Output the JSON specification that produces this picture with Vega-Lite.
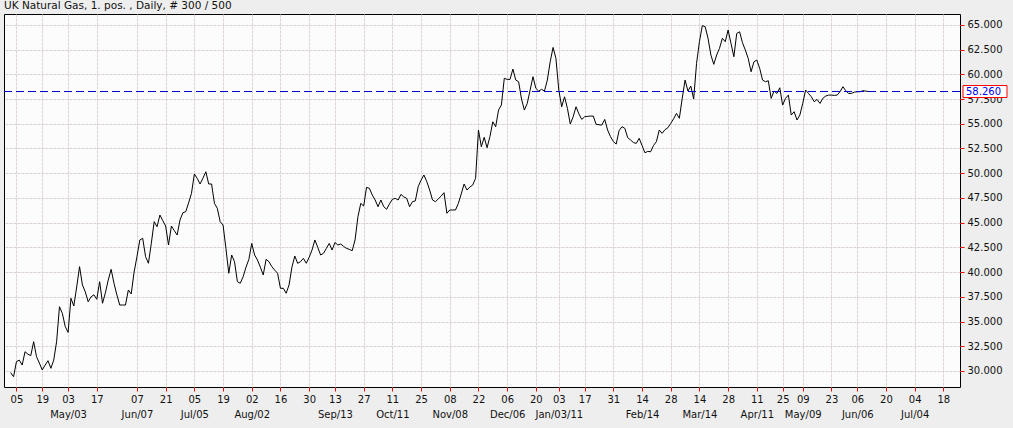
{
  "$schema": "https://vega.github.io/schema/vega-lite/v6.json",
  "width": 956,
  "height": 373,
  "autosize": {"type": "none"},
  "padding": {"left": 4, "top": 14, "right": 53, "bottom": 41},
  "background": "#eeeeee",
  "title": {"text": "UK Natural Gas, 1. pos. , Daily, # 300 / 500", "anchor": "start", "frame": "group", "offset": 3, "fontSize": 10.5, "font": "DejaVu Sans", "fontWeight": "normal", "color": "#111111"},
  "config": {
    "view": {"stroke": "#000000", "strokeWidth": 1, "fill": "#fcfcfc"},
    "axis": {"labelFont": "DejaVu Sans", "labelFontSize": 10, "labelColor": "#111111", "tickColor": "#ff0000", "domain": false, "gridColor": "#dcd2d2", "gridDash": [3, 1], "gridWidth": 1, "labelOverlap": false, "labelFlush": false, "title": null}
  },
  "data": {"values": [
    {"i":0,"v":29.83},{"i":1,"v":29.42},{"i":2,"v":30.94},{"i":3,"v":31.1},{"i":4,"v":30.6},{"i":5,"v":31.95},{"i":6,"v":31.7},{"i":7,"v":31.55},{"i":8,"v":32.96},{"i":9,"v":31.45},
    {"i":10,"v":30.8},{"i":11,"v":30.1},{"i":12,"v":30.6},{"i":13,"v":31.04},{"i":14,"v":30.27},{"i":15,"v":31.1},{"i":16,"v":32.96},{"i":17,"v":36.5},{"i":18,"v":35.83},{"i":19,"v":34.5},
    {"i":20,"v":33.9},{"i":21,"v":37.35},{"i":22,"v":36.57},{"i":23,"v":38.5},{"i":24,"v":40.55},{"i":25,"v":38.7},{"i":26,"v":38.0},{"i":27,"v":37.0},{"i":28,"v":37.5},{"i":29,"v":37.7},
    {"i":30,"v":37.25},{"i":31,"v":39.03},{"i":32,"v":36.85},{"i":33,"v":37.9},{"i":34,"v":39.2},{"i":35,"v":40.28},{"i":36,"v":38.87},{"i":37,"v":37.7},{"i":38,"v":36.67},{"i":39,"v":36.67},
    {"i":40,"v":36.67},{"i":41,"v":38.19},{"i":42,"v":37.79},{"i":43,"v":40.0},{"i":44,"v":41.56},{"i":45,"v":43.25},{"i":46,"v":43.42},{"i":47,"v":41.56},{"i":48,"v":40.89},{"i":49,"v":42.9},
    {"i":50,"v":45.1},{"i":51,"v":44.59},{"i":52,"v":45.77},{"i":53,"v":45.2},{"i":54,"v":44.66},{"i":55,"v":42.74},{"i":56,"v":44.66},{"i":57,"v":44.2},{"i":58,"v":43.75},{"i":59,"v":45.27},
    {"i":60,"v":46.0},{"i":61,"v":46.11},{"i":62,"v":47.0},{"i":63,"v":47.96},{"i":64,"v":49.92},{"i":65,"v":49.48},{"i":66,"v":48.91},{"i":67,"v":49.5},{"i":68,"v":50.15},{"i":69,"v":48.91},
    {"i":70,"v":48.91},{"i":71,"v":46.95},{"i":72,"v":46.45},{"i":73,"v":45.1},{"i":74,"v":44.76},{"i":75,"v":42.4},{"i":76,"v":39.88},{"i":77,"v":41.73},{"i":78,"v":41.05},{"i":79,"v":39.03},
    {"i":80,"v":38.87},{"i":81,"v":39.53},{"i":82,"v":40.5},{"i":83,"v":41.29},{"i":84,"v":42.9},{"i":85,"v":41.73},{"i":86,"v":41.22},{"i":87,"v":40.5},{"i":88,"v":39.71},{"i":89,"v":41.29},
    {"i":90,"v":41.05},{"i":91,"v":40.55},{"i":92,"v":40.2},{"i":93,"v":39.88},{"i":94,"v":38.36},{"i":95,"v":38.36},{"i":96,"v":37.86},{"i":97,"v":38.7},{"i":98,"v":40.5},{"i":99,"v":41.63},
    {"i":100,"v":40.89},{"i":101,"v":41.05},{"i":102,"v":41.39},{"i":103,"v":40.89},{"i":104,"v":41.5},{"i":105,"v":42.23},{"i":106,"v":43.25},{"i":107,"v":42.5},{"i":108,"v":41.73},{"i":109,"v":41.9},
    {"i":110,"v":42.4},{"i":111,"v":42.9},{"i":112,"v":42.23},{"i":113,"v":43.0},{"i":114,"v":42.74},{"i":115,"v":42.84},{"i":116,"v":42.6},{"i":117,"v":42.4},{"i":118,"v":42.3},{"i":119,"v":42.16},
    {"i":120,"v":43.25},{"i":121,"v":45.6},{"i":122,"v":46.95},{"i":123,"v":46.68},{"i":124,"v":48.57},{"i":125,"v":48.47},{"i":126,"v":47.8},{"i":127,"v":47.29},{"i":128,"v":46.61},{"i":129,"v":47.29},
    {"i":130,"v":46.61},{"i":131,"v":46.35},{"i":132,"v":46.9},{"i":133,"v":47.36},{"i":134,"v":47.46},{"i":135,"v":47.29},{"i":136,"v":47.86},{"i":137,"v":47.6},{"i":138,"v":47.46},{"i":139,"v":46.61},
    {"i":140,"v":47.12},{"i":141,"v":47.2},{"i":142,"v":48.64},{"i":143,"v":49.3},{"i":144,"v":49.82},{"i":145,"v":49.14},{"i":146,"v":48.3},{"i":147,"v":47.29},{"i":148,"v":47.12},{"i":149,"v":47.4},
    {"i":150,"v":47.69},{"i":151,"v":48.03},{"i":152,"v":45.95},{"i":153,"v":46.28},{"i":154,"v":46.28},{"i":155,"v":46.28},{"i":156,"v":46.95},{"i":157,"v":47.9},{"i":158,"v":48.91},{"i":159,"v":48.3},
    {"i":160,"v":48.6},{"i":161,"v":48.81},{"i":162,"v":49.48},{"i":163,"v":54.37},{"i":164,"v":52.68},{"i":165,"v":53.63},{"i":166,"v":52.58},{"i":167,"v":53.7},{"i":168,"v":55.2},{"i":169,"v":54.7},
    {"i":170,"v":56.39},{"i":171,"v":56.9},{"i":172,"v":59.6},{"i":173,"v":59.49},{"i":174,"v":59.49},{"i":175,"v":60.53},{"i":176,"v":59.42},{"i":177,"v":59.25},{"i":178,"v":57.5},{"i":179,"v":56.39},
    {"i":180,"v":57.06},{"i":181,"v":58.4},{"i":182,"v":59.76},{"i":183,"v":58.58},{"i":184,"v":58.3},{"i":185,"v":58.48},{"i":186,"v":58.3},{"i":187,"v":59.42},{"i":188,"v":61.27},{"i":189,"v":62.72},
    {"i":190,"v":61.6},{"i":191,"v":58.41},{"i":192,"v":56.72},{"i":193,"v":57.73},{"i":194,"v":56.56},{"i":195,"v":54.97},{"i":196,"v":55.71},{"i":197,"v":56.72},{"i":198,"v":56.0},{"i":199,"v":55.44},
    {"i":200,"v":55.71},{"i":201,"v":55.75},{"i":202,"v":55.78},{"i":203,"v":55.78},{"i":204,"v":54.94},{"i":205,"v":54.9},{"i":206,"v":54.87},{"i":207,"v":55.44},{"i":208,"v":54.37},{"i":209,"v":53.7},
    {"i":210,"v":53.2},{"i":211,"v":52.95},{"i":212,"v":54.3},{"i":213,"v":54.7},{"i":214,"v":54.54},{"i":215,"v":53.6},{"i":216,"v":53.36},{"i":217,"v":53.1},{"i":218,"v":53.02},{"i":219,"v":53.53},
    {"i":220,"v":52.8},{"i":221,"v":52.07},{"i":222,"v":52.2},{"i":223,"v":52.17},{"i":224,"v":52.8},{"i":225,"v":53.19},{"i":226,"v":54.37},{"i":227,"v":54.03},{"i":228,"v":54.4},{"i":229,"v":54.6},
    {"i":230,"v":55.04},{"i":231,"v":55.5},{"i":232,"v":56.05},{"i":233,"v":55.55},{"i":234,"v":57.57},{"i":235,"v":59.42},{"i":236,"v":58.31},{"i":237,"v":58.81},{"i":238,"v":57.5},{"i":239,"v":61.11},
    {"i":240,"v":63.3},{"i":241,"v":64.92},{"i":242,"v":64.82},{"i":243,"v":63.64},{"i":244,"v":61.95},{"i":245,"v":61.01},{"i":246,"v":61.95},{"i":247,"v":62.63},{"i":248,"v":63.64},{"i":249,"v":63.3},
    {"i":250,"v":64.48},{"i":251,"v":63.13},{"i":252,"v":61.78},{"i":253,"v":64.13},{"i":254,"v":64.3},{"i":255,"v":63.2},{"i":256,"v":62.45},{"i":257,"v":61.61},{"i":258,"v":60.26},{"i":259,"v":61.27},
    {"i":260,"v":61.44},{"i":261,"v":60.6},{"i":262,"v":59.42},{"i":263,"v":59.25},{"i":264,"v":59.35},{"i":265,"v":57.57},{"i":266,"v":58.31},{"i":267,"v":58.07},{"i":268,"v":58.64},{"i":269,"v":56.89},
    {"i":270,"v":57.57},{"i":271,"v":57.9},{"i":272,"v":55.88},{"i":273,"v":56.22},{"i":274,"v":55.38},{"i":275,"v":55.88},{"i":276,"v":57.06},{"i":277,"v":58.41},{"i":278,"v":58.07},{"i":279,"v":57.73},
    {"i":280,"v":57.23},{"i":281,"v":57.46},{"i":282,"v":57.06},{"i":283,"v":57.57},{"i":284,"v":57.8},{"i":285,"v":57.9},{"i":286,"v":57.9},{"i":287,"v":57.87},{"i":288,"v":57.9},{"i":289,"v":58.24},
    {"i":290,"v":58.75},{"i":291,"v":58.34},{"i":292,"v":58.07},{"i":293,"v":58.07},{"i":294,"v":58.2},{"i":295,"v":58.24},{"i":296,"v":58.24},{"i":297,"v":58.34},{"i":298,"v":58.3},{"i":299,"v":58.26}
  ]},
  "encoding": {
    "y": {"field": "v", "type": "quantitative",
      "scale": {"domain": [28.38, 66.1], "nice": false, "zero": false},
      "axis": {"orient": "right", "values": [30,32.5,35,37.5,40,42.5,45,47.5,50,52.5,55,57.5,60,62.5,65], "format": ".3f", "tickSize": 4, "labelPadding": 3, "grid": true, "labelOverlap": false, "labelSeparation": 0, "labelBound": false}}
  },
  "layer": [
    {
      "mark": {"type": "line", "color": "#000000", "strokeWidth": 1},
      "encoding": {
        "x": {"field": "i", "type": "quantitative",
          "scale": {"domain": [-2.33, 330.8], "nice": false, "zero": false},
          "axis": {"orient": "bottom", "values": [2,11,20,30,44,54,64,74,84,94,104,113,123,133,143,153,163,173,183,191,200,210,220,230,240,250,260,269,276,286,295,305,315,325],
            "labelExpr": "{'2':'05','11':'19','20':['03','May/03'],'30':'17','44':['07','Jun/07'],'54':'21','64':['05','Jul/05'],'74':'19','84':['02','Aug/02'],'94':'16','104':'30','113':['13','Sep/13'],'123':'27','133':['11','Oct/11'],'143':'25','153':['08','Nov/08'],'163':'22','173':['06','Dec/06'],'183':'20','191':['03','Jan/03/11'],'200':'17','210':'31','220':['14','Feb/14'],'230':'28','240':['14','Mar/14'],'250':'28','260':['11','Apr/11'],'269':'25','276':['09','May/09'],'286':'23','295':['06','Jun/06'],'305':'20','315':['04','Jul/04'],'325':'18'}[datum.value]",
            "tickSize": 4, "labelPadding": 3, "labelLineHeight": 15, "labelBaseline": "top", "grid": true, "labelOverlap": false}}
      }
    },
    {
      "transform": [{"filter": "datum.i == 299"}],
      "mark": {"type": "rule", "color": "#0000cc", "strokeWidth": 1, "strokeDash": [8, 4]},
      "encoding": {}
    },
    {
      "transform": [{"filter": "datum.i == 299"}],
      "mark": {"type": "rect", "fill": "#ffffff", "stroke": "#ff0000", "strokeWidth": 1, "xOffset": 3, "x2Offset": 47, "yOffset": -6, "y2Offset": 6},
      "encoding": {
        "x": {"value": "width"}, "x2": {"value": "width"},
        "y2": {"field": "v"}
      }
    },
    {
      "transform": [{"filter": "datum.i == 299"}],
      "mark": {"type": "text", "color": "#0000ff", "font": "DejaVu Sans", "fontSize": 10, "align": "left", "baseline": "middle", "dx": 6},
      "encoding": {
        "x": {"value": "width"},
        "text": {"field": "v", "type": "quantitative", "format": ".3f"}
      }
    }
  ]
}
